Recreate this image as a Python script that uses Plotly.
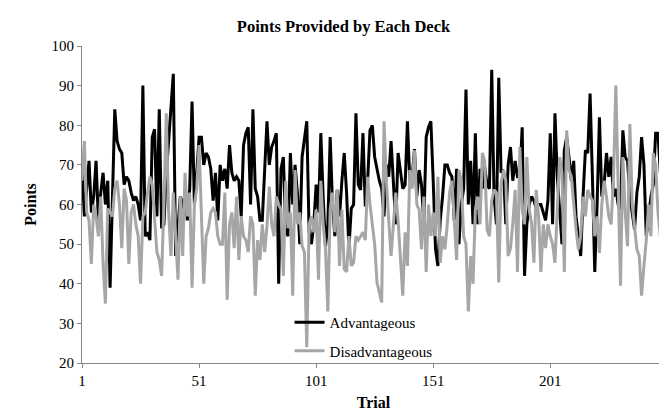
import plotly.graph_objects as go

trials = list(range(1, 251))

advantageous = [
    70, 57, 64, 71, 58, 62, 71, 56, 63,
    68, 60, 66, 39, 60, 84, 76, 74, 73, 65,
    67, 66, 63, 61, 62, 60, 56, 90, 52, 53,
    51, 77, 79, 57, 84, 54, 55, 68, 76, 86,
    93, 47, 55, 62, 59, 63, 56, 64, 86, 60,
    68, 77, 77, 70, 73, 72, 69, 61, 68, 56,
    70, 66, 69, 64, 75, 68, 66, 67, 66, 57,
    75, 78, 79.5, 60, 84, 64, 62, 56, 56, 69,
    81, 70, 74.5, 76, 78, 40, 69, 72, 54, 52,
    73, 60, 70, 63, 50, 72, 77, 81, 53, 50,
    55, 65, 58, 78, 62, 49.5, 55, 77, 60, 52,
    63.7, 57, 66, 73, 63, 48.7, 59, 60, 83, 65,
    63.7, 78, 59.5, 66, 78.7, 80, 72, 68.7, 66, 64,
    57, 70, 67, 76, 64, 55, 73, 69, 64, 65,
    81, 66, 67, 74, 62, 68.7, 65, 55.3, 77, 79.5,
    81, 66, 48.7, 44.5, 56, 62, 70, 70, 68, 67,
    56, 69, 50, 60, 64, 89, 60, 71, 55, 78,
    55, 69, 64, 69.5, 65, 64, 94, 62, 55, 92,
    68, 68.7, 55, 70, 74.5, 66, 71, 67, 67, 79.5,
    42, 55, 60, 62, 61, 59, 60, 60, 58, 56,
    61, 78, 55, 83, 67, 58, 50, 73.7, 77, 72,
    66, 71, 57, 52, 47, 62, 73.7, 73, 88, 67,
    43, 60, 82, 62, 65, 73, 67, 72, 62, 64,
    60, 58.7, 78.7, 72, 71, 62, 58, 53.7, 63, 67,
    77, 70, 52, 57, 62, 65, 78, 78, 68, 76, 79.5,
]

disadvantageous = [
    66, 76, 58, 56, 45, 60, 57, 52, 62,
    45, 35, 59, 58, 57, 64, 66, 60, 49, 64,
    61, 45, 58, 60, 55, 52, 40, 57, 58, 63,
    67, 65, 56, 48, 46, 42, 60, 83, 58, 47,
    63, 52, 41, 62, 47, 68, 57, 63, 39, 60,
    64, 75, 57, 40, 52, 54, 58, 59, 58, 52,
    50, 50, 63, 36, 55, 58, 49, 62, 46, 57,
    52, 51, 48, 57, 55, 37, 51, 46, 55, 48,
    54.5, 64.5, 55, 52, 62, 60, 58.7, 42, 66, 54,
    58, 37, 68.7, 55, 58, 49.5, 48, 24, 55, 57,
    53, 58.7, 41, 66, 55, 48.7, 33, 58.7, 63, 53,
    63.7, 44.5, 58.7, 43.7, 43, 52, 44.5, 45.3, 52, 51,
    52, 53, 51, 67, 60, 55, 50, 40.3, 38, 35.3,
    81, 66, 56, 47, 55, 63, 56, 47, 37, 53,
    44.5, 68.7, 64, 73.7, 60, 58.7, 48.7, 62, 43, 60,
    52, 58, 52, 67, 45.3, 52, 48.7, 55, 63, 66,
    55, 46, 68.7, 66, 52, 50, 33, 47, 40, 58.7,
    62, 55, 73, 71, 53.7, 52, 61, 63.7, 63, 40.3,
    65.3, 68.7, 66, 47, 49, 55.3, 63.7, 43, 74.5, 58.7,
    55, 72, 58.7, 55.3, 45.3, 63.7, 57, 43, 55, 49,
    55, 52, 50, 45.3, 58.7, 72, 68, 43, 78.7, 68.7,
    67, 60, 53.7, 48.7, 52, 62, 57, 63.7, 62, 61,
    52, 57, 47.8, 60, 66, 62, 57, 55, 67, 90,
    63.7, 39.5, 72, 58, 49.5, 80.3, 60, 55, 48.7, 47,
    37, 44.5, 51, 60, 52, 73, 70, 58, 52, 67, 44.5,
]

x_tick_vals = [1, 51, 101, 151, 201, 250]
x_tick_text = ["1", "51", "101", "151", "201", ""]
y_tick_vals = [20, 30, 40, 50, 60, 70, 80, 90, 100]

FONT = "Liberation Serif, Times New Roman, serif"
AXIS_COLOR = "#868686"

fig = go.Figure()
fig.add_trace(go.Scatter(
    x=trials, y=advantageous, mode="lines", name="Advantageous",
    line=dict(color="#000000", width=3), legendgroup="a",
))
fig.add_trace(go.Scatter(
    x=trials, y=disadvantageous, mode="lines", name="Disadvantageous",
    line=dict(color="#A6A6A6", width=3), legendgroup="b",
))

fig.update_layout(
    width=667, height=410,
    margin=dict(l=74, r=10, t=38, b=52),
    paper_bgcolor="white", plot_bgcolor="white",
    font=dict(family=FONT, size=15, color="#000000"),
    title=dict(text="<b>Points Provided by Each Deck</b>", x=0.503, xref="container",
               y=0.955, yref="container", xanchor="center", yanchor="middle",
               font=dict(family=FONT, size=16.5, color="#000000")),
    showlegend=True,
    legend=dict(x=0.356, y=0.18, xanchor="left", yanchor="top",
                bgcolor="rgba(0,0,0,0)", borderwidth=0,
                font=dict(family=FONT, size=15, color="#000000"),
                traceorder="grouped", tracegroupgap=6),
    xaxis=dict(range=[1, 250], tickmode="array", tickvals=x_tick_vals, ticktext=x_tick_text,
               showgrid=False, zeroline=False, showline=True, linecolor=AXIS_COLOR, linewidth=1,
               ticks="outside", ticklen=4, tickcolor=AXIS_COLOR,
               tickfont=dict(family=FONT, size=15),
               title=dict(text="<b>Trial</b>", font=dict(family=FONT, size=16), standoff=8)),
    yaxis=dict(range=[20, 100], tickmode="array", tickvals=y_tick_vals,
               showgrid=False, zeroline=False, showline=True, linecolor=AXIS_COLOR, linewidth=1,
               ticks="outside", ticklen=4, tickcolor=AXIS_COLOR,
               tickfont=dict(family=FONT, size=15),
               title=dict(text="<b>Points</b>", font=dict(family=FONT, size=16), standoff=10)),
)

fig.write_html("out.html")
